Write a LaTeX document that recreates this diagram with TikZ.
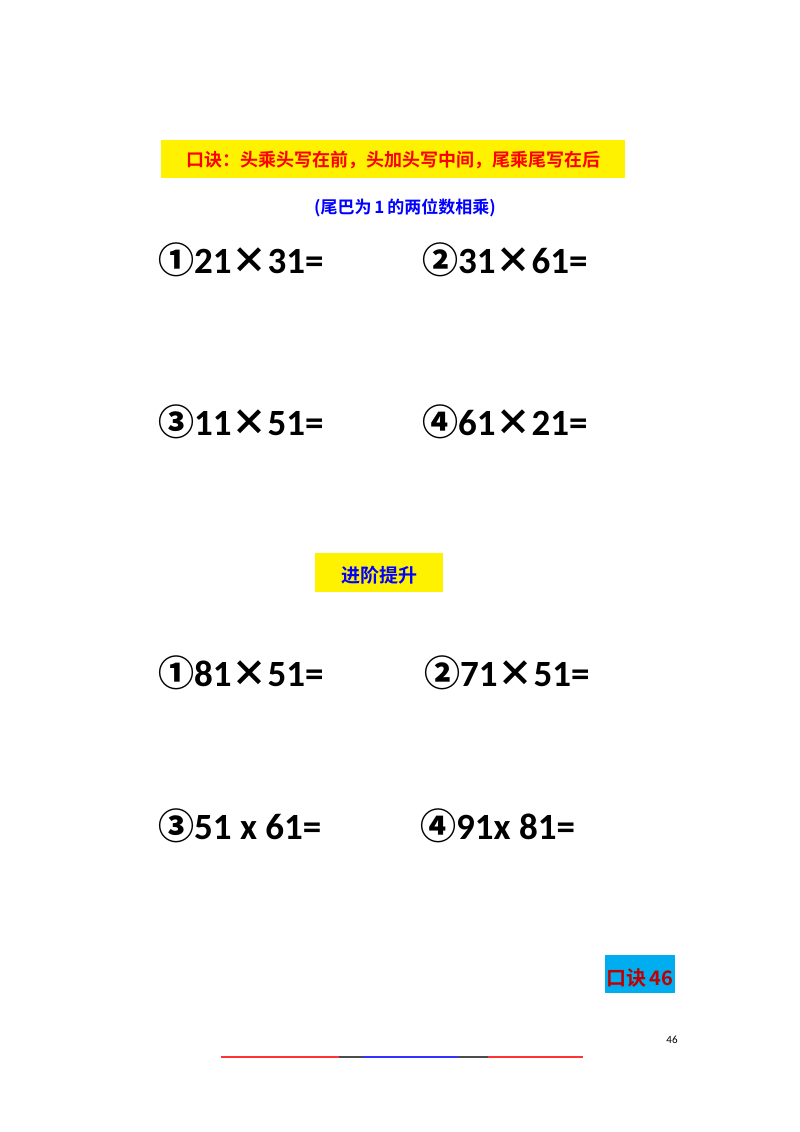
\documentclass[tikz,border=0pt]{standalone}
\usepackage{fontspec}
\setmainfont{Carlito}
\newfontfamily\cjk{Noto Sans CJK SC Bold}
\begin{document}
\begin{tikzpicture}[x=1pt,y=-1pt,
  prob/.style={anchor=west,inner sep=0pt,font=\fontsize{37}{40}\selectfont\bfseries},
  hdr/.style={inner sep=0pt}]
\useasboundingbox[fill=white] (0,0) rectangle (800,1132);
\fill[yellow] (161,140) rectangle (625,178);
\node[hdr,text=red,font=\cjk\fontsize{18}{20}\selectfont] (t1) at (393,160) {口诀：头乘头写在前，头加头写中间，尾乘尾写在后};
\node[hdr,text=blue,font=\cjk\fontsize{17}{20}\selectfont] (t2) at (405,208) {(尾巴为\,1\,的两位数相乘)};
\node[prob] (p1) at (158,260) {{\cjk\fontsize{36}{40}\selectfont ①}21{\cjk\fontsize{36}{40}\selectfont ×}31=};
\node[prob] (p2) at (422,260) {{\cjk\fontsize{36}{40}\selectfont ②}31{\cjk\fontsize{36}{40}\selectfont ×}61=};
\node[prob] (p3) at (158,422) {{\cjk\fontsize{36}{40}\selectfont ③}11{\cjk\fontsize{36}{40}\selectfont ×}51=};
\node[prob] (p4) at (422,422) {{\cjk\fontsize{36}{40}\selectfont ④}61{\cjk\fontsize{36}{40}\selectfont ×}21=};
\fill[yellow] (315,553) rectangle (443,592);
\node[hdr,text=blue,font=\cjk\fontsize{19}{22}\selectfont] (t3) at (379,575) {进阶提升};
\node[prob] (p5) at (158,673) {{\cjk\fontsize{36}{40}\selectfont ①}81{\cjk\fontsize{36}{40}\selectfont ×}51=};
\node[prob] (p6) at (424,673) {{\cjk\fontsize{36}{40}\selectfont ②}71{\cjk\fontsize{36}{40}\selectfont ×}51=};
\node[prob] (p7) at (158,826) {{\cjk\fontsize{36}{40}\selectfont ③}51 x 61=};
\node[prob] (p8) at (420,826) {{\cjk\fontsize{36}{40}\selectfont ④}91x 81=};
\fill[cyan] (605,955) rectangle (675,993);
\node[hdr,text=red!75!black,font=\cjk\fontsize{20}{22}\selectfont] (t4) at (640,978) {口诀\,46};
\node[hdr,font=\fontsize{11}{12}\selectfont] (pg) at (672,1040) {46};
\draw[red!80,line width=1.5] (221,1057) -- (339,1057);
\draw[black!70,line width=1.5] (339,1057) -- (363,1057);
\draw[blue!80,line width=1.5] (363,1057) -- (458,1057);
\draw[black!70,line width=1.5] (458,1057) -- (488,1057);
\draw[red!80,line width=1.5] (488,1057) -- (583,1057);
\end{tikzpicture}
\end{document}
